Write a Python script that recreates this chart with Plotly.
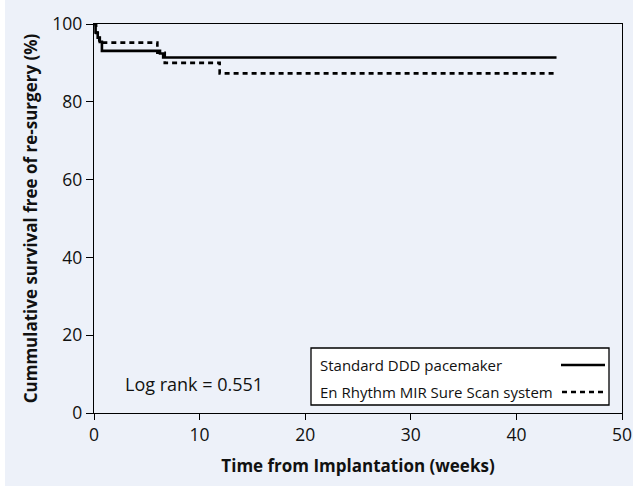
import plotly.graph_objects as go

# Data
std_t = [0, 0.15, 0.35, 0.55, 0.75, 6.25, 6.55, 43.8]
std_s = [100, 97.8, 96.5, 95.4, 93.1, 92.4, 91.4, 91.4]
enr_t = [0, 0.2, 0.5, 6.0, 6.7, 11.9, 43.6]
enr_s = [100, 97.7, 95.2, 92.6, 90.0, 87.3, 87.3]

x_ticks = [0, 10, 20, 30, 40, 50]
y_ticks = [0, 20, 40, 60, 80, 100]
series_names = ["Standard DDD pacemaker", "En Rhythm MIR Sure Scan system"]
log_rank_text = "Log rank = 0.551"

BG = "#edf1f9"
FONT = "Open Sans"

L, R, T, B = 94, 11, 24, 73
W, H = 633, 486
PW, PH = W - L - R, H - T - B

def px(xpix):
    return (xpix - L) / PW

def py(ypix):
    return (H - B - ypix) / PH

fig = go.Figure()
fig.add_trace(go.Scatter(x=std_t, y=std_s, mode="lines", line_shape="hv",
                         line=dict(color="black", width=2.6), name=series_names[0]))
fig.add_trace(go.Scatter(x=enr_t, y=enr_s, mode="lines", line_shape="hv",
                         line=dict(color="black", width=2.6, dash="5px,4px"), name=series_names[1]))

shapes = []
shapes.append(dict(type="rect", xref="paper", yref="paper", x0=px(0), x1=px(5),
                   y0=py(H), y1=py(0), fillcolor="white", line=dict(width=0), layer="below"))
shapes.append(dict(type="rect", xref="paper", yref="paper", x0=px(311), x1=px(609),
                   y0=py(405), y1=py(348), fillcolor="white", line=dict(color="black", width=1.3)))
shapes.append(dict(type="line", xref="paper", yref="paper", x0=px(561), x1=px(605),
                   y0=py(365), y1=py(365), line=dict(color="black", width=2.6)))
shapes.append(dict(type="line", xref="paper", yref="paper", x0=px(562), x1=px(605),
                   y0=py(392), y1=py(392), line=dict(color="black", width=2.6, dash="5px,4px")))

annotations = [
    dict(text=series_names[0], xref="paper", yref="paper", x=px(318), y=py(365),
         xanchor="left", yanchor="middle", showarrow=False, font=dict(family=FONT, size=15, color="#111")),
    dict(text=series_names[1], xref="paper", yref="paper", x=px(318), y=py(392),
         xanchor="left", yanchor="middle", showarrow=False, font=dict(family=FONT, size=15, color="#111")),
    dict(text=log_rank_text, xref="paper", yref="paper", x=px(123), y=py(384),
         xanchor="left", yanchor="middle", showarrow=False, font=dict(family=FONT, size=18, color="#111")),
]

fig.update_layout(
    width=W, height=H,
    margin=dict(l=L, r=R, t=T, b=B, autoexpand=False),
    paper_bgcolor=BG, plot_bgcolor=BG,
    showlegend=False,
    shapes=shapes, annotations=annotations,
    font=dict(family=FONT, color="#111"),
    xaxis=dict(range=[0, 50], tickvals=x_ticks, showgrid=False, zeroline=False, automargin=False,
               showline=True, linecolor="black", linewidth=1.3, mirror=True,
               ticks="outside", ticklen=6, tickcolor="black", tickwidth=1.3,
               tickfont=dict(family=FONT, size=17.5, color="#111"),
               title=dict(text="<b>Time from Implantation (weeks)</b>", standoff=14,
                          font=dict(family=FONT, size=17, color="#111"))),
    yaxis=dict(range=[0, 100], tickvals=y_ticks, showgrid=False, zeroline=False, automargin=False,
               showline=True, linecolor="black", linewidth=1.3, mirror=True,
               ticks="outside", ticklen=7, tickcolor="black", tickwidth=1.3,
               tickfont=dict(family=FONT, size=17.5, color="#111"),
               title=dict(text="<b>Cummulative survival free of re-surgery (%)</b>", standoff=10,
                          font=dict(family=FONT, size=17, color="#111"))),
)

fig.write_html("out.html")
